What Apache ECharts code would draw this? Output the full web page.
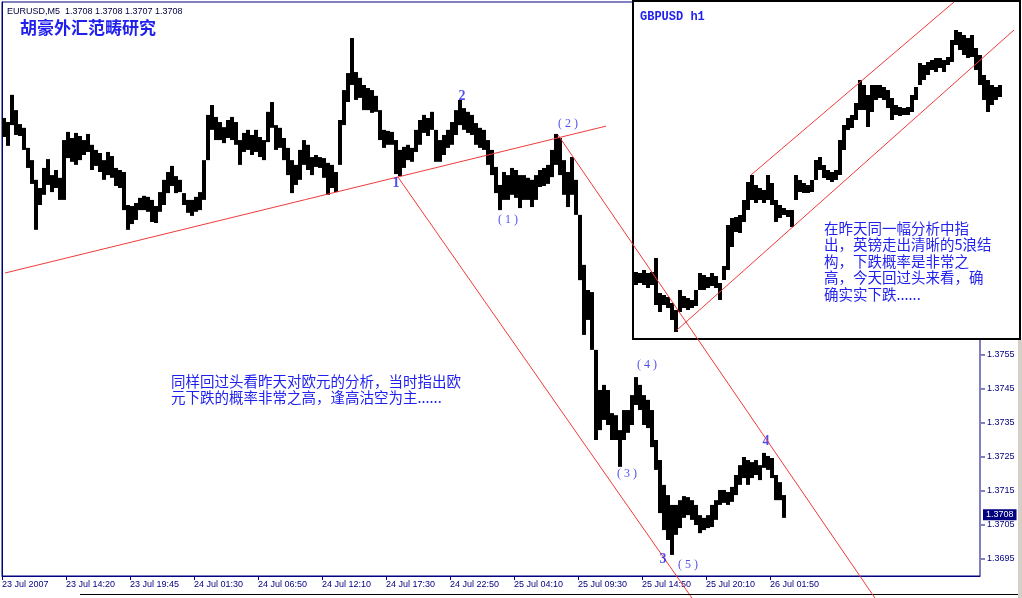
<!DOCTYPE html>
<html><head><meta charset="utf-8">
<script src="https://cdn.jsdelivr.net/npm/echarts@6/dist/echarts.min.js"></script>
<style>html,body{margin:0;padding:0;background:#fff}#c{width:1022px;height:598px}</style>
</head><body><div id="c"></div>
<script>
// ---------- data ----------
const timeLabels = ['23 Jul 2007','23 Jul 14:20','23 Jul 19:45','24 Jul 01:30','24 Jul 06:50','24 Jul 12:10','24 Jul 17:30','24 Jul 22:50','25 Jul 04:10','25 Jul 09:30','25 Jul 14:50','25 Jul 20:10','26 Jul 01:50'];
const labelStep = 16; // bars between time labels
const headerText = 'EURUSD,M5  1.3708 1.3708 1.3707 1.3708';
const lastClose = 1.3708;
const priceTicks = [1.3695,1.3705,1.3715,1.3725,1.3735,1.3745,1.3755];

const eurHigh = [1.38247,1.38235,1.38315,1.38270,1.38229,1.38218,1.38159,1.38123,1.38065,1.38041,
1.38100,1.38126,1.38079,1.38094,1.38071,1.38182,1.38206,1.38188,1.38203,1.38194,
1.38182,1.38200,1.38168,1.38153,1.38144,1.38123,1.38147,1.38135,1.38100,1.38094,
1.38088,1.37991,1.37988,1.37997,1.38012,1.38018,1.38015,1.38006,1.37988,1.38029,
1.38065,1.38088,1.38106,1.38076,1.38065,1.38026,1.38006,1.38006,1.38015,1.38029,
1.38123,1.38256,1.38285,1.38250,1.38235,1.38220,1.38241,1.38250,1.38235,1.38182,
1.38203,1.38212,1.38197,1.38212,1.38191,1.38182,1.38265,1.38294,1.38226,1.38218,
1.38188,1.38159,1.38123,1.38109,1.38153,1.38182,1.38168,1.38132,1.38138,1.38132,
1.38129,1.38115,1.38109,1.38088,1.38241,1.38329,1.38379,1.38482,1.38382,1.38365,
1.38344,1.38335,1.38329,1.38312,1.38270,1.38212,1.38209,1.38206,1.38182,1.38153,
1.38162,1.38168,1.38159,1.38212,1.38241,1.38256,1.38247,1.38265,1.38212,1.38182,
1.38197,1.38212,1.38235,1.38270,1.38300,1.38276,1.38265,1.38256,1.38232,1.38218,
1.38212,1.38182,1.38153,1.38103,1.38050,1.38088,1.38079,1.38100,1.38094,1.38079,
1.38079,1.38071,1.38065,1.38079,1.38094,1.38100,1.38109,1.38153,1.38200,1.38188,
1.38123,1.38088,1.38132,1.38065,1.37962,1.37815,1.37741,1.37735,1.37565,1.37447,
1.37462,1.37447,1.37379,1.37373,1.37329,1.37388,1.37388,1.37432,1.37485,1.37462,
1.37432,1.37418,1.37388,1.37300,1.37241,1.37168,1.37138,1.37109,1.37109,1.37123,
1.37135,1.37132,1.37123,1.37109,1.37079,1.37071,1.37079,1.37109,1.37123,1.37153,
1.37153,1.37147,1.37162,1.37197,1.37226,1.37250,1.37241,1.37235,1.37241,1.37226,
1.37262,1.37253,1.37247,1.37197,1.37176,1.37138];
const eurLow = [1.38191,1.38165,1.38226,1.38197,1.38194,1.38153,1.38100,1.38053,1.37918,1.37991,
1.38021,1.38050,1.38029,1.38041,1.38006,1.38006,1.38129,1.38118,1.38109,1.38123,
1.38138,1.38147,1.38094,1.38106,1.38088,1.38065,1.38079,1.38071,1.38047,1.38041,
1.37976,1.37918,1.37935,1.37947,1.37976,1.37976,1.37971,1.37941,1.37938,1.37971,
1.37991,1.38026,1.38047,1.38026,1.38029,1.37991,1.37968,1.37959,1.37971,1.37976,
1.38006,1.38123,1.38212,1.38182,1.38182,1.38173,1.38188,1.38182,1.38168,1.38109,
1.38147,1.38153,1.38138,1.38147,1.38132,1.38123,1.38176,1.38218,1.38153,1.38159,
1.38123,1.38079,1.38026,1.38050,1.38065,1.38109,1.38094,1.38079,1.38103,1.38100,
1.38071,1.38021,1.38041,1.38029,1.38109,1.38226,1.38294,1.38344,1.38300,1.38306,
1.38270,1.38270,1.38262,1.38265,1.38182,1.38159,1.38168,1.38168,1.38082,1.38076,
1.38100,1.38123,1.38118,1.38147,1.38168,1.38203,1.38194,1.38212,1.38118,1.38118,
1.38138,1.38159,1.38168,1.38197,1.38226,1.38212,1.38203,1.38197,1.38168,1.38159,
1.38153,1.38109,1.38079,1.38026,1.37976,1.38006,1.38006,1.38021,1.38012,1.37982,
1.38006,1.38006,1.37985,1.38006,1.38044,1.38047,1.38053,1.38073,1.38109,1.38079,
1.38021,1.37985,1.38021,1.37962,1.37770,1.37609,1.37653,1.37565,1.37300,1.37329,
1.37359,1.37344,1.37300,1.37300,1.37221,1.37300,1.37321,1.37344,1.37403,1.37388,
1.37344,1.37335,1.37279,1.37212,1.37085,1.37035,1.37006,1.36962,1.37021,1.37041,
1.37071,1.37079,1.37065,1.37050,1.37026,1.37035,1.37041,1.37044,1.37065,1.37109,
1.37115,1.37109,1.37118,1.37138,1.37168,1.37188,1.37168,1.37188,1.37197,1.37182,
1.37218,1.37212,1.37188,1.37123,1.37123,1.37071];

const gbpHigh = [2.0156,2.0154,2.0160,2.0154,2.0156,2.0184,2.0114,2.0110,2.0106,2.0094,
2.0080,2.0120,2.0108,2.0104,2.0100,2.0120,2.0154,2.0150,2.0146,2.0154,
2.0148,2.0134,2.0168,2.0250,2.0264,2.0266,2.0270,2.0300,2.0336,2.0350,
2.0330,2.0324,2.0320,2.0350,2.0334,2.0300,2.0290,2.0284,2.0280,2.0280,
2.0350,2.0340,2.0334,2.0330,2.0340,2.0380,2.0386,2.0370,2.0360,2.0356,
2.0360,2.0420,2.0450,2.0464,2.0470,2.0494,2.0540,2.0530,2.0510,2.0530,
2.0530,2.0530,2.0526,2.0520,2.0504,2.0490,2.0486,2.0484,2.0486,2.0510,
2.0526,2.0574,2.0570,2.0576,2.0580,2.0584,2.0584,2.0580,2.0586,2.0620,
2.0640,2.0636,2.0630,2.0624,2.0630,2.0604,2.0590,2.0550,2.0540,2.0530,
2.0526,2.0530];
const gbpLow = [2.0130,2.0134,2.0130,2.0124,2.0130,2.0090,2.0076,2.0090,2.0084,2.0060,
2.0036,2.0076,2.0084,2.0080,2.0084,2.0088,2.0120,2.0120,2.0124,2.0128,
2.0124,2.0100,2.0140,2.0160,2.0206,2.0236,2.0234,2.0256,2.0280,2.0300,
2.0294,2.0300,2.0294,2.0300,2.0290,2.0256,2.0264,2.0270,2.0266,2.0246,
2.0300,2.0316,2.0314,2.0314,2.0316,2.0340,2.0360,2.0344,2.0340,2.0336,
2.0340,2.0350,2.0400,2.0440,2.0444,2.0460,2.0480,2.0480,2.0446,2.0476,
2.0500,2.0504,2.0500,2.0484,2.0460,2.0470,2.0468,2.0470,2.0470,2.0476,
2.0500,2.0530,2.0540,2.0550,2.0560,2.0556,2.0564,2.0556,2.0570,2.0576,
2.0610,2.0600,2.0590,2.0584,2.0586,2.0560,2.0530,2.0500,2.0476,2.0490,
2.0500,2.0506];

// wave count labels: bar index, price, text
const waveText  = ['1','2','( 1 )','( 2 )','( 3 )','( 4 )','3','( 5 )','4'];
const waveBar   = [98.5,115,126.5,141.5,156.25,161.25,165.25,171.5,191];
const wavePrice = [1.38056,1.38309,1.37947,1.38229,1.37200,1.37521,1.36950,1.36932,1.37297];

// trend lines (bar index, price)
const trendSupport = [[0.75,1.37791],[151,1.38223]];
const trendLower   = [[99,1.38073],[172.5,1.36835]];
const trendUpper   = [[139,1.38197],[218.25,1.36835]];
const gbpUpper     = [[29.25,2.0350],[80,2.0696]];
const gbpLower     = [[10.75,2.0040],[95,2.0640]];

const titleText = '胡豪外汇范畴研究';
const insetTitle = 'GBPUSD h1';
const noteMain = '同样回过头看昨天对欧元的分析，当时指出欧\n元下跌的概率非常之高，逢高沽空为主......';
const noteInset = '在昨天同一幅分析中指\n出，英镑走出清晰的5浪结\n构，下跌概率是非常之\n高，今天回过头来看，确\n确实实下跌......';

// ---------- chart ----------
const NAVY = '#000080', BLUE = '#1f1fee', RED = '#f03a3a';
const chart = echarts.init(document.getElementById('c'), null, {renderer:'canvas'});

function barRender(params, api){
  const i = api.value(0), lo = api.value(1), hi = api.value(2);
  const a = api.coord([i, hi]);
  const b = api.coord([i + 1, lo]);
  return {type:'rect', shape:{x:a[0], y:a[1], width:b[0]-a[0], height:Math.max(1, b[1]-a[1])},
          style:{fill:'#000'}};
}
const eurData = eurHigh.map((h,i)=>[i, eurLow[i], h]);
const gbpData = gbpHigh.map((h,i)=>[i, gbpLow[i], h]);
const tickVals = timeLabels.map((_,k)=>k*labelStep);

const waveData = waveText.map((t,k)=>({
  value:[waveBar[k], wavePrice[k]],
  label:{formatter:t, fontFamily:'Liberation Serif',
    fontWeight: t.length === 1 ? 'bold' : 'normal',
    fontSize: t.length === 1 ? 14 : 12}
}));

const lineSeries = (data, xi, yi, z) => ({
  type:'line', data, xAxisIndex:xi, yAxisIndex:yi, symbol:'none', z, clip:false,
  lineStyle:{color:RED, width:1}, silent:true, animation:false
});

chart.setOption({
  animation:false,
  textStyle:{fontFamily:'Liberation Sans'},
  grid:[
    {left:2, top:2, width:978, height:574, show:true, borderColor:NAVY, borderWidth:1, backgroundColor:'#fff', outerBoundsMode:'none', containLabel:false},
    {left:634, top:2, width:384, height:336, show:false, outerBoundsMode:'none', containLabel:false}
  ],
  xAxis:[
    {type:'value', gridIndex:0, min:0, max:244.5, position:'bottom',
     axisLine:{show:true, lineStyle:{color:NAVY, width:1}},
     axisTick:{show:true, customValues:tickVals, length:4, lineStyle:{color:NAVY}},
     axisLabel:{show:true, customValues:tickVals, align:'left', margin:4, color:NAVY, fontSize:9,
       fontFamily:'Liberation Sans',
       formatter:v=>timeLabels[Math.round(v/labelStep)] || ''},
     splitLine:{show:false}},
    {type:'value', gridIndex:1, min:0, max:96, show:false}
  ],
  yAxis:[
    {type:'value', gridIndex:0, position:'right', min:1.369, max:1.38588, scale:true,
     axisLine:{show:true, lineStyle:{color:NAVY, width:1}},
     axisTick:{show:false},
     axisLabel:{show:true, customValues:priceTicks, margin:1, color:NAVY, fontSize:9,
       fontFamily:'Liberation Sans', formatter:v=>'{t|}{n|' + v.toFixed(4) + '}',
       rich:{t:{width:4, height:1, backgroundColor:NAVY, verticalAlign:'middle'},
             n:{color:NAVY, fontSize:9, fontFamily:'Liberation Sans', padding:[0,0,0,2], verticalAlign:'middle'}}},
     splitLine:{show:false}},
    {type:'value', gridIndex:1, min:2.0024, max:2.0696, scale:true, show:false}
  ],
  series:[
    {type:'custom', renderItem:barRender, data:eurData, xAxisIndex:0, yAxisIndex:0,
     encode:{x:0, y:[1,2]}, z:2, silent:true},
    {type:'line', data:[[0,lastClose],[244.5,lastClose]], xAxisIndex:0, yAxisIndex:0, symbol:'none', z:5,
     silent:true, lineStyle:{width:0, color:'rgba(0,0,0,0)'},
     endLabel:{show:true, formatter:lastClose.toFixed(4), distance:3, color:'#fff',
       backgroundColor:NAVY, padding:[1,3,1,3], fontSize:9, fontFamily:'Liberation Sans'}},
    lineSeries(trendSupport,0,0,3),
    lineSeries(trendLower,0,0,3),
    {type:'scatter', xAxisIndex:0, yAxisIndex:0, data:waveData, symbolSize:1, z:4,
     itemStyle:{color:'rgba(0,0,0,0)'}, silent:true,
     label:{show:true, position:'inside', color:BLUE}},
    {type:'custom', renderItem:barRender, data:gbpData, xAxisIndex:1, yAxisIndex:1,
     encode:{x:0, y:[1,2]}, z:20, silent:true},
    lineSeries(gbpUpper,1,1,21),
    lineSeries(gbpLower,1,1,21),
    lineSeries(trendUpper,0,0,30)
  ],
  graphic:[
    {type:'rect', z:10, shape:{x:633, y:1, width:387, height:338},
     style:{fill:'#fff', stroke:'#000', lineWidth:2}},
    {type:'rect', z:10, shape:{x:1018, y:340, width:4, height:258}, style:{fill:'#d4d0c8'}},
    {type:'line', z:10, shape:{x1:80, y1:594.5, x2:1018, y2:594.5}, style:{stroke:'#000', lineWidth:1}},
    {type:'text', z:40, x:7, y:12, style:{text:headerText, font:'9px "Liberation Sans"', fill:'#000040', align:'left', verticalAlign:'middle'}},
    {type:'text', z:40, x:20, y:28, style:{text:titleText, font:'bold 17px "Noto Sans CJK SC"', fill:BLUE, align:'left', verticalAlign:'middle'}},
    {type:'text', z:40, x:171, y:389, style:{text:noteMain, font:'14.5px "Noto Sans CJK SC"', lineHeight:16, fill:BLUE, align:'left', verticalAlign:'middle'}},
    {type:'text', z:40, x:640, y:17, style:{text:insetTitle, font:'bold 12px "Liberation Mono"', fill:BLUE, align:'left', verticalAlign:'middle'}},
    {type:'text', z:40, x:824, y:261, style:{text:noteInset, font:'14.5px "Noto Sans CJK SC"', lineHeight:16.5, fill:BLUE, align:'left', verticalAlign:'middle'}}
  ]
});
</script></body></html>
